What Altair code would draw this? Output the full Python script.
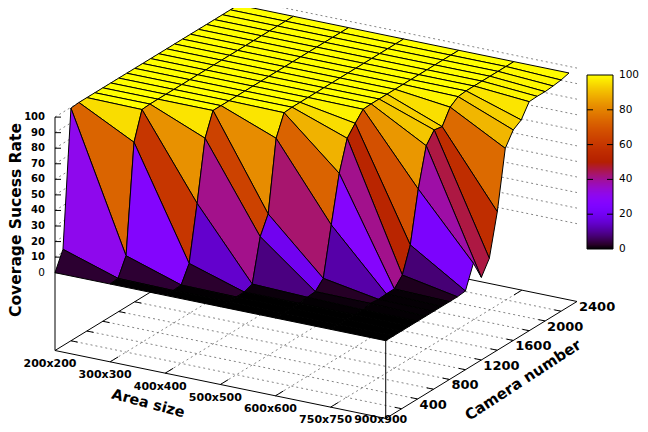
import math
import altair as alt

area_labels = ["200x200", "300x300", "400x400", "500x500", "600x600", "750x750", "900x900"]
camera_numbers = [100 * k for k in range(24)]
camera_ticks = [200 * k for k in range(1, 13)]
camera_labels = [400, 800, 1200, 1600, 2000, 2400]
z_ticks = [0, 10, 20, 30, 40, 50, 60, 70, 80, 90, 100]
bar_labels = [0, 20, 40, 60, 80, 100]

col_200 = [0, 11.9, 99.5] + [100] * 21
col_300 = [0, 0.5, 11.9, 81.7, 99.6] + [100] * 19
col_400 = [0, 0, 0.4, 11.1, 46.6, 85.3] + [100] * 18
col_500 = [0, 0, 0, 0, 2, 29.3, 40.8, 86.3, 99.6] + [100] * 15
col_600 = [0, 0, 0, 0, 0.8, 1.3, 6.7, 37.9, 67.9, 87.3, 93.8, 99.7] + [100] * 12
col_750 = [0, 0, 0, 0, 0, 1, 0.5, 0.8, 0.9, 6.7, 22.9, 55.7, 80.4, 87.4, 86.4, 95.8, 99.4] + [100] * 7
col_900 = [0] * 10 + [0.6, 15.3, 3.1, 12.2, 39, 76.6, 85.3, 88.6, 97.2, 97.5, 97.4, 97.9, 98.6, 100]
columns = [col_200, col_300, col_400, col_500, col_600, col_750, col_900]

# view transform of the 3D box (page pixels, minus the 8px page margin)
ORIGIN = (55 - 8, 272.7 - 8)
U = (55.12, 11.33)      # one area step
V = (7.97 / 100, -4.875 / 100)  # one camera unit
Z = -1.556              # one percent
BASE_Z = -50
TOP_Z = 100
CAM_MAX = 2400
AREA_MAX = 6
BAR_X0, BAR_X1, BAR_Y0, BAR_LEN = 579, 605, 67, 174


def proj(i, cam, z):
    return [ORIGIN[0] + U[0] * i + V[0] * cam,
            ORIGIN[1] + U[1] * i + V[1] * cam + Z * z]


def feat(coords, closed=False, c=None):
    if closed:
        geom = {"type": "Polygon", "coordinates": [coords + [coords[0]]]}
    else:
        geom = {"type": "LineString", "coordinates": coords}
    props = {} if c is None else {"c": c}
    return {"type": "Feature", "geometry": geom, "properties": props}


# surface quads, far ones first
quads = []
for k in range(len(camera_numbers) - 2, -1, -1):
    for i in range(len(columns) - 1):
        a, b = columns[i], columns[i + 1]
        c0, c1 = camera_numbers[k], camera_numbers[k + 1]
        mean = (a[k] + a[k + 1] + b[k] + b[k + 1]) / 4
        quads.append(feat([proj(i, c0, a[k]), proj(i, c1, a[k + 1]),
                           proj(i + 1, c1, b[k + 1]), proj(i + 1, c0, b[k])],
                          closed=True, c=mean))

# dotted grid
grid = []
for i in range(1, AREA_MAX):
    grid.append(feat([proj(i, 0, BASE_Z), proj(i, CAM_MAX, BASE_Z)]))
for cam in camera_ticks[:-1]:
    grid.append(feat([proj(0, cam, BASE_Z), proj(AREA_MAX, cam, BASE_Z)]))
for z in z_ticks:
    grid.append(feat([proj(0, 0, z), proj(0, CAM_MAX, z), proj(AREA_MAX, CAM_MAX, z)]))

# solid box and ticks
box = [
    feat([proj(0, 0, BASE_Z), proj(AREA_MAX, 0, BASE_Z), proj(AREA_MAX, CAM_MAX, BASE_Z),
          proj(0, CAM_MAX, BASE_Z), proj(0, 0, BASE_Z)]),
    feat([proj(0, 0, BASE_Z), proj(0, 0, TOP_Z)]),
    feat([proj(AREA_MAX, 0, BASE_Z), proj(AREA_MAX, 0, TOP_Z)]),
]
for i in range(1, AREA_MAX):
    box.append(feat([proj(i, 0, BASE_Z), proj(i, 100, BASE_Z)]))
    box.append(feat([proj(i, CAM_MAX, BASE_Z), proj(i, CAM_MAX - 100, BASE_Z)]))
for cam in camera_ticks[:-1]:
    box.append(feat([proj(0, cam, BASE_Z), proj(0.12, cam, BASE_Z)]))
    box.append(feat([proj(AREA_MAX, cam, BASE_Z), proj(AREA_MAX - 0.12, cam, BASE_Z)]))
for z in z_ticks:
    p = proj(0, 0, z)
    box.append(feat([p, [p[0] + 6, p[1]]]))


# colour ramp: gnuplot's default palette
def pal(x):
    r = math.sqrt(x)
    g = x ** 3
    b = max(0.0, math.sin(2 * math.pi * x))
    return "#%02x%02x%02x" % (round(255 * r), round(255 * g), round(255 * b))


ramp = [pal(t / 40) for t in range(41)]


def bar_y(v):
    return BAR_Y0 + BAR_LEN * (1 - v / 100)


# colour bar, drawn through the same colour scale as the surface
bar_cells = []
for n in range(BAR_LEN):
    y = BAR_Y0 + n
    bar_cells.append(feat([[BAR_X0, y], [BAR_X1, y], [BAR_X1, y + 1], [BAR_X0, y + 1]],
                          closed=True, c=100 * (1 - (n + 0.5) / BAR_LEN)))
bar_lines = [feat([[BAR_X0, BAR_Y0], [BAR_X1, BAR_Y0], [BAR_X1, BAR_Y0 + BAR_LEN],
                   [BAR_X0, BAR_Y0 + BAR_LEN], [BAR_X0, BAR_Y0]])]
for v in bar_labels[1:-1]:
    bar_lines.append(feat([[BAR_X0, bar_y(v)], [BAR_X0 + 6, bar_y(v)]]))
    bar_lines.append(feat([[BAR_X1 - 6, bar_y(v)], [BAR_X1, bar_y(v)]]))

PROJ = dict(type="identity", scale=1, translate=[0, 0])
color = alt.Color(
    "properties.c:Q",
    scale=alt.Scale(domain=[0, 100], range=ramp, interpolate="rgb"),
    legend=None,
)

grid_layer = alt.Chart(alt.Data(values=grid)).mark_geoshape(
    filled=False, stroke="#666666", strokeWidth=0.8, strokeDash=[2, 3]).project(**PROJ)
box_layer = alt.Chart(alt.Data(values=box)).mark_geoshape(
    filled=False, stroke="black", strokeWidth=1).project(**PROJ)
surface = alt.Chart(alt.Data(values=quads)).mark_geoshape(
    stroke="black", strokeWidth=1, strokeJoin="round").encode(color=color).project(**PROJ)
bar_fill = alt.Chart(alt.Data(values=bar_cells)).mark_geoshape(
    strokeWidth=0).encode(color=color).project(**PROJ)
bar_layer = alt.Chart(alt.Data(values=bar_lines)).mark_geoshape(
    filled=False, stroke="black", strokeWidth=1).project(**PROJ)


def text_layer(rows, **kw):
    base = dict(font="DejaVu Sans", color="black")
    base.update(kw)
    return alt.Chart(alt.Data(values=rows)).mark_text(**base).encode(
        longitude="lon:Q", latitude="lat:Q", text="t:N").project(**PROJ)


def row(t, p, dx=0, dy=0):
    return {"t": t, "lon": p[0] + dx, "lat": min(p[1] + dy, 411.5)}


x_rows = [row(t, proj(i, 0, BASE_Z), -5, 13.5) for i, t in enumerate(area_labels)]
y_rows = [row(str(c), proj(AREA_MAX, c, BASE_Z), 2, 6) for c in camera_labels]
z_rows = [row(str(z), proj(0, 0, z), -10, 0) for z in z_ticks if z > 0]
z0_rows = [row("0", proj(0, 0, 0), -10, 0)]
bar_rows = [row(str(v), [BAR_X1 + 6, bar_y(v)]) for v in bar_labels]

layers = [
    grid_layer, box_layer, surface, bar_fill, bar_layer,
    text_layer(x_rows, fontWeight="bold", fontSize=11, align="center", baseline="middle"),
    text_layer(y_rows, fontWeight="bold", fontSize=13, align="left", baseline="middle"),
    text_layer(z_rows, fontWeight="bold", fontSize=10, align="right", baseline="middle"),
    text_layer(z0_rows, fontSize=10.5, align="right", baseline="middle"),
    text_layer(bar_rows, fontSize=10.5, align="left", baseline="middle"),
    text_layer([{"t": "Coverage Sucess Rate", "lon": 7.5, "lat": 220 - 8}], fontWeight="bold",
               fontSize=15.5, angle=270, align="center", baseline="middle"),
    text_layer([{"t": "Area size", "lon": 148 - 8, "lat": 404 - 8}], fontWeight="bold",
               fontSize=14.5, angle=15, align="center", baseline="middle"),
    text_layer([{"t": "Camera number", "lon": 523 - 8, "lat": 380 - 8}], fontWeight="bold",
               fontSize=15, angle=327, align="center", baseline="middle"),
]

chart = alt.layer(*layers).properties(
    width=632, height=416, padding=0, autosize=alt.AutoSizeParams(type="none"),
).configure_view(stroke=None)

chart.save("out.html", embed_options={"renderer": "svg", "actions": False})
